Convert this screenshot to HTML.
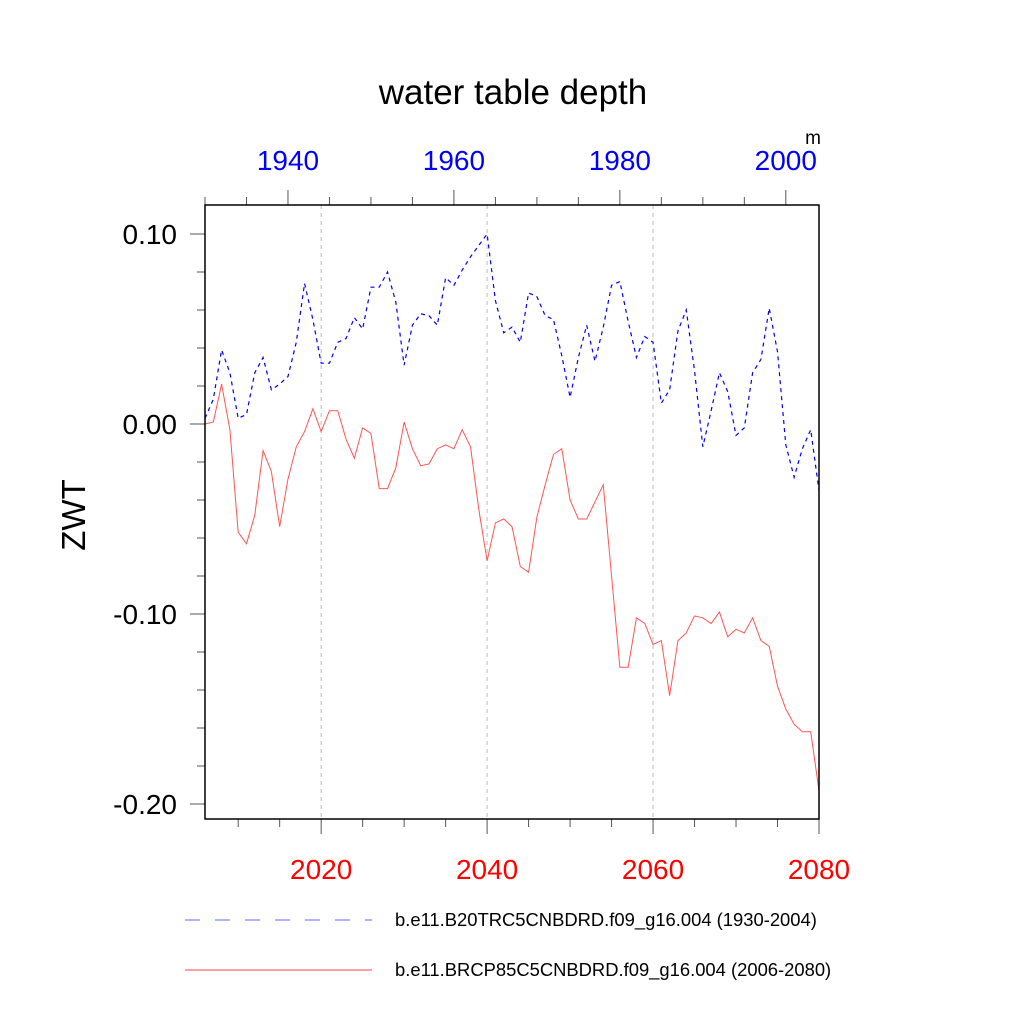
<!DOCTYPE html>
<html><head><meta charset="utf-8"><style>
body{margin:0;background:#fff}
svg{display:block;font-family:"Liberation Sans",sans-serif}
</style></head><body>
<svg id="chart" width="1024" height="1024" viewBox="0 0 1024 1024">
<text x="513" y="104" font-size="35" text-anchor="middle">water table depth</text>
<text x="813" y="144" font-size="19" text-anchor="middle">m</text>
<text transform="translate(85,515) rotate(-90)" font-size="33" text-anchor="middle">ZWT</text>
<g id="grid"></g><g id="axes"></g><g id="series"></g>
<rect x="205" y="205" width="614" height="614" fill="none" stroke="#000" stroke-width="1.5"/>
<g>
<line x1="185" y1="920" x2="372" y2="920" stroke="#00f" stroke-width="1" stroke-dasharray="15,15" opacity="0.6"/>
<text x="395" y="926" font-size="18.4">b.e11.B20TRC5CNBDRD.f09_g16.004 (1930-2004)</text>
<line x1="185" y1="970" x2="372" y2="970" stroke="#f44" stroke-width="1"/>
<text x="395" y="976" font-size="18.4">b.e11.BRCP85C5CNBDRD.f09_g16.004 (2006-2080)</text>
</g>
</svg>
<script>
const yearsRed = Array.from({length:75},(_,i)=>2006+i);
const yearsBlue = Array.from({length:75},(_,i)=>1930+i);
const blueValues = [0.003,0.013,0.039,0.027,0.003,0.005,0.027,0.035,0.018,0.021,0.025,0.043,0.074,0.055,0.032,0.032,0.043,0.045,0.056,0.050,0.072,0.072,0.080,0.064,0.031,0.052,0.058,0.057,0.052,0.077,0.073,0.081,0.088,0.094,0.100,0.065,0.048,0.051,0.043,0.069,0.067,0.057,0.055,0.036,0.014,0.035,0.052,0.033,0.051,0.073,0.075,0.054,0.035,0.046,0.043,0.011,0.018,0.049,0.060,0.028,-0.012,0.007,0.027,0.017,-0.006,-0.002,0.027,0.034,0.061,0.038,-0.011,-0.028,-0.013,-0.003,-0.035];
const redValues = [0.0,0.001,0.021,-0.003,-0.057,-0.063,-0.048,-0.014,-0.025,-0.054,-0.029,-0.012,-0.004,0.008,-0.004,0.007,0.007,-0.008,-0.018,-0.002,-0.005,-0.034,-0.034,-0.023,0.001,-0.013,-0.022,-0.021,-0.013,-0.011,-0.013,-0.003,-0.012,-0.045,-0.072,-0.052,-0.050,-0.054,-0.075,-0.078,-0.049,-0.032,-0.016,-0.013,-0.040,-0.050,-0.050,-0.041,-0.032,-0.080,-0.128,-0.128,-0.102,-0.105,-0.116,-0.114,-0.143,-0.114,-0.110,-0.101,-0.102,-0.105,-0.099,-0.112,-0.108,-0.110,-0.102,-0.114,-0.117,-0.138,-0.150,-0.158,-0.162,-0.162,-0.193];
const yTickValues = [0.10,0.00,-0.10,-0.20];
const yTickLabels = ["0.10","0.00","-0.10","-0.20"];
const bottomTickLabels = ["2020","2040","2060","2080"];
const topTickLabels = ["1940","1960","1980","2000"];

const NS="http://www.w3.org/2000/svg";
const L=205,R=819,T=205,B=819;
const xRed=y=>L+(y-2006)*(R-L)/74;
const xBlue=y=>L+(y-1930)*(R-L)/74;
const yS=v=>424-v*1900;
function mk(tag,attrs,parent){const e=document.createElementNS(NS,tag);for(const k in attrs)e.setAttribute(k,attrs[k]);parent.appendChild(e);return e;}
const grid=document.getElementById('grid'),axes=document.getElementById('axes'),series=document.getElementById('series');

bottomTickLabels.forEach(lbl=>{const x=xRed(+lbl);if(x<R-1){const g=mk('line',{x1:x,x2:x,y1:T,y2:B,stroke:'#bbb','stroke-dasharray':'4,4','stroke-width':1},grid);

}});

for(let yr=2010;yr<=2080;yr+=5){const x=xRed(yr);const maj=yr%20===0;const t=mk('line',{x1:x,x2:x,y1:B,y2:B+(maj?15:8),stroke:'#555','stroke-width':1},axes);

}
bottomTickLabels.forEach(lbl=>{const t=mk('text',{x:xRed(+lbl),y:879,'font-size':28,fill:'#f00','text-anchor':'middle'},axes);t.textContent=lbl;

});
for(let yr=1930;yr<=2004;yr+=5){const x=xBlue(yr);const maj=yr%20===0;const t=mk('line',{x1:x,x2:x,y1:T,y2:T-(maj?15:8),stroke:'#555','stroke-width':1},axes);

}
topTickLabels.forEach(lbl=>{const t=mk('text',{x:xBlue(+lbl),y:170,'font-size':28,fill:'#00f','text-anchor':'middle'},axes);t.textContent=lbl;

});
for(let k=-21;k<=11;k++){const v=k/100;if(k%2!==0)continue;const y=yS(v);if(y<T||y>B)continue;const maj=k%10===0;const t=mk('line',{x1:L,x2:L-(maj?15:8),y1:y,y2:y,stroke:'#555','stroke-width':1},axes);

}
yTickValues.forEach((v,i)=>{const t=mk('text',{x:177,y:yS(v)+10,'font-size':28,'text-anchor':'end'},axes);t.textContent=yTickLabels[i];

});

const pb=mk('polyline',{points:blueValues.map((v,i)=>xBlue(yearsBlue[i])+','+yS(v)).join(' '),fill:'none',stroke:'#00f','stroke-width':1.2,'stroke-dasharray':'4,4'},series);


const pr=mk('polyline',{points:redValues.map((v,i)=>xRed(yearsRed[i])+','+yS(v)).join(' '),fill:'none',stroke:'#f55','stroke-width':1},series);


</script>
</body></html>
